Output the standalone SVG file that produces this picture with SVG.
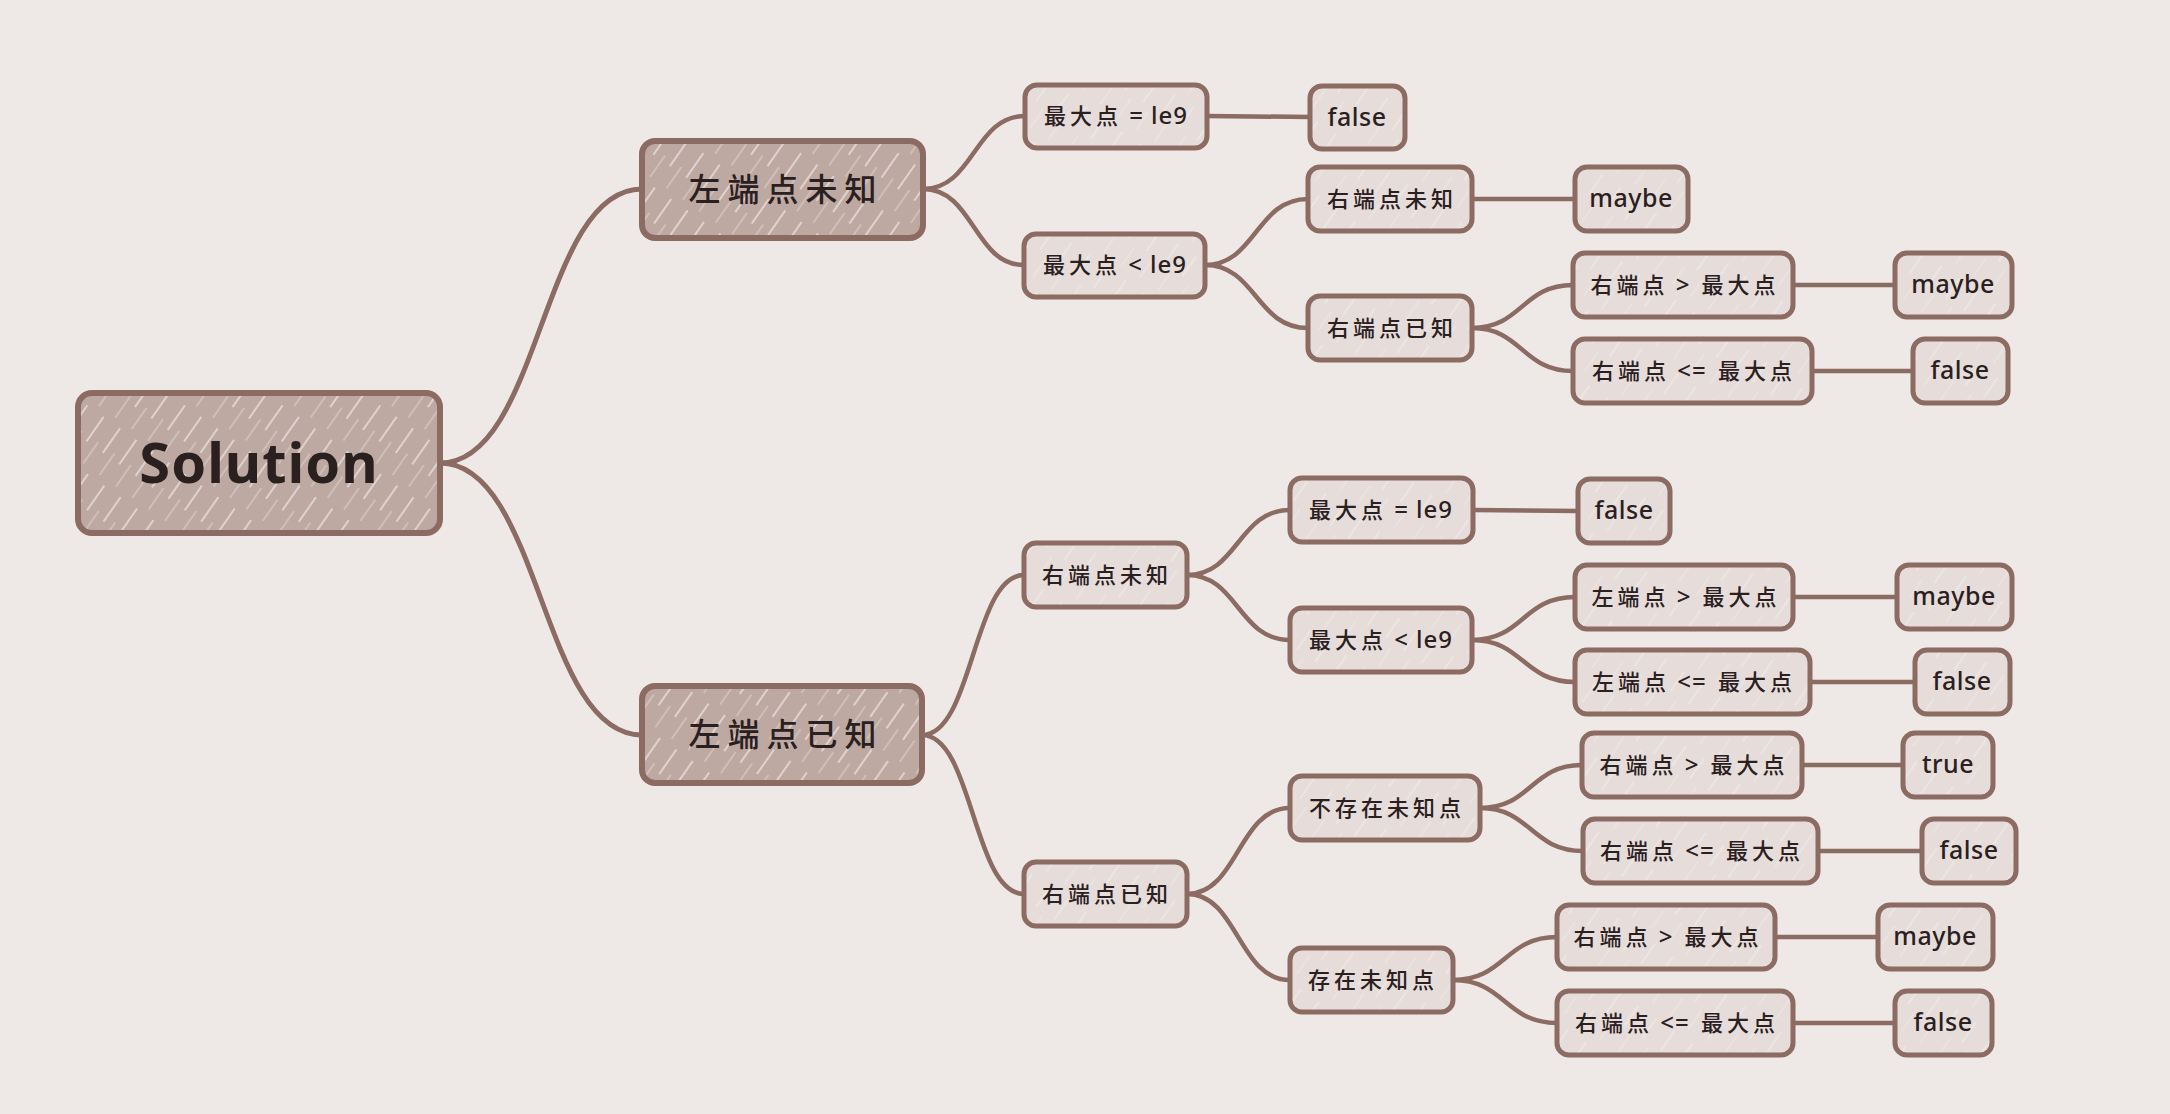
<svg xmlns="http://www.w3.org/2000/svg" width="2170" height="1114" viewBox="0 0 2170 1114">
<defs>
  <pattern id="hatchDark" width="20" height="56" patternUnits="userSpaceOnUse" patternTransform="rotate(35)">
    <rect width="20" height="56" fill="#BEA9A2"/>
    <line x1="4" y1="2" x2="4" y2="32" stroke="#F4EEEC" stroke-width="1.6" opacity="0.75"/>
    <line x1="14" y1="26" x2="14" y2="52" stroke="#F4EEEC" stroke-width="1.2" opacity="0.5"/>
  </pattern>
  <pattern id="hatchLight" width="22" height="60" patternUnits="userSpaceOnUse" patternTransform="rotate(35)">
    <rect width="22" height="60" fill="#E6DDDA"/>
    <line x1="5" y1="4" x2="5" y2="28" stroke="#F5F1EF" stroke-width="1.2" opacity="0.75"/>
    <line x1="15" y1="32" x2="15" y2="54" stroke="#F5F1EF" stroke-width="1" opacity="0.55"/>
  </pattern>
  <style>
    .bg { fill: #EEE9E7; }
    .edge { fill: none; stroke: #8B6B62; stroke-width: 4.5; stroke-linecap: round; }
    .edge.main { stroke-width: 5; }
    .dark rect { fill: url(#hatchDark); stroke: #8B6B62; stroke-width: 6; }
    .light rect { fill: url(#hatchLight); stroke: #8B6B62; stroke-width: 5; }
    text { fill: #2A201F; font-family: "Noto Sans", "Noto Sans CJK SC", sans-serif; text-anchor: middle; }
    .root text { font-size: 56px; font-weight: 700; letter-spacing: 1px; }
    .dark.l1 text { font-size: 32px; font-weight: 500; letter-spacing: 7px; }
    .light text { font-size: 22px; font-weight: 500; letter-spacing: 4px; }
    .light text.en { font-size: 25px; letter-spacing: 0.5px; }
    tspan.lat { font-size: 24px; letter-spacing: 1px; }
  </style>
</defs>
<rect class="bg" x="0" y="0" width="2170" height="1114"/>

<g id="connectors">
  <path class="edge main" d="M440 463 C541 463 541 189 642 189"/>
  <path class="edge main" d="M440 463 C541 463 541 735 642 735"/>
  <path class="edge" d="M923 189 C974 189 974 116 1025 116"/>
  <path class="edge" d="M923 189 C974 189 974 265 1024 265"/>
  <path class="edge" d="M1205 265 C1256 265 1256 199 1308 199"/>
  <path class="edge" d="M1205 265 C1256 265 1256 328 1308 328"/>
  <path class="edge" d="M1472 328 C1522 328 1522 285 1573 285"/>
  <path class="edge" d="M1472 328 C1522 328 1522 371 1573 371"/>
  <path class="edge" d="M1207 116 L1310 117"/>
  <path class="edge" d="M1472 199 L1575 199"/>
  <path class="edge" d="M1793 285 L1895 285"/>
  <path class="edge" d="M1812 371 L1913 371"/>

  <path class="edge" d="M922 735 C973 735 973 575 1024 575"/>
  <path class="edge" d="M922 735 C973 735 973 894 1024 894"/>
  <path class="edge" d="M1187 575 C1238 575 1238 510 1290 510"/>
  <path class="edge" d="M1187 575 C1238 575 1238 640 1290 640"/>
  <path class="edge" d="M1472 640 C1523 640 1523 597 1575 597"/>
  <path class="edge" d="M1472 640 C1523 640 1523 682 1575 682"/>
  <path class="edge" d="M1187 894 C1238 894 1238 808 1290 808"/>
  <path class="edge" d="M1187 894 C1238 894 1238 980 1290 980"/>
  <path class="edge" d="M1480 808 C1531 808 1531 765 1582 765"/>
  <path class="edge" d="M1480 808 C1531 808 1531 851 1583 851"/>
  <path class="edge" d="M1453 980 C1505 980 1505 937 1557 937"/>
  <path class="edge" d="M1453 980 C1505 980 1505 1023 1557 1023"/>
  <path class="edge" d="M1473 510 L1578 511"/>
  <path class="edge" d="M1793 597 L1897 597"/>
  <path class="edge" d="M1810 682 L1915 682"/>
  <path class="edge" d="M1802 765 L1903 765"/>
  <path class="edge" d="M1818 851 L1922 851"/>
  <path class="edge" d="M1775 937 L1878 937"/>
  <path class="edge" d="M1793 1023 L1895 1023"/>
</g>

<g id="n-root" class="dark root"><rect x="78" y="393" width="362" height="140" rx="14"/><text x="259" y="483">Solution</text></g>

<g id="n-l-unknown" class="dark l1"><rect x="642" y="141" width="281" height="97" rx="13"/><text x="786" y="201">左端点未知</text></g>
<g id="n-l-known" class="dark l1"><rect x="642" y="686" width="280" height="97" rx="13"/><text x="786" y="746">左端点已知</text></g>

<g id="n-a1" class="light"><rect x="1025" y="85" width="182" height="63" rx="12"/><text x="1116" y="124">最大点<tspan class="lat"> = le9</tspan></text></g>
<g id="n-a1f" class="light"><rect x="1310" y="86" width="95" height="63" rx="12"/><text class="en" x="1357" y="126">false</text></g>
<g id="n-a2" class="light"><rect x="1024" y="234" width="181" height="63" rx="12"/><text x="1115" y="273">最大点<tspan class="lat"> &lt; le9</tspan></text></g>
<g id="n-a2a" class="light"><rect x="1308" y="167" width="164" height="64" rx="12"/><text x="1392" y="207">右端点未知</text></g>
<g id="n-a2am" class="light"><rect x="1575" y="167" width="113" height="64" rx="12"/><text class="en" x="1631" y="207">maybe</text></g>
<g id="n-a2b" class="light"><rect x="1308" y="296" width="164" height="64" rx="12"/><text x="1392" y="336">右端点已知</text></g>
<g id="n-a2b1" class="light"><rect x="1573" y="253" width="220" height="64" rx="12"/><text x="1685" y="293">右端点<tspan class="lat"> &gt; </tspan><tspan dx="4">最大点</tspan></text></g>
<g id="n-a2b1m" class="light"><rect x="1895" y="253" width="117" height="64" rx="12"/><text class="en" x="1953" y="293">maybe</text></g>
<g id="n-a2b2" class="light"><rect x="1573" y="339" width="239" height="64" rx="12"/><text x="1694" y="379">右端点<tspan class="lat"> &lt;= </tspan><tspan dx="4">最大点</tspan></text></g>
<g id="n-a2b2f" class="light"><rect x="1913" y="339" width="95" height="64" rx="12"/><text class="en" x="1960" y="379">false</text></g>

<g id="n-b1" class="light"><rect x="1024" y="543" width="163" height="64" rx="12"/><text x="1107" y="583">右端点未知</text></g>
<g id="n-b1a" class="light"><rect x="1290" y="478" width="183" height="64" rx="12"/><text x="1381" y="518">最大点<tspan class="lat"> = le9</tspan></text></g>
<g id="n-b1af" class="light"><rect x="1578" y="479" width="92" height="64" rx="12"/><text class="en" x="1624" y="519">false</text></g>
<g id="n-b1b" class="light"><rect x="1290" y="608" width="182" height="64" rx="12"/><text x="1381" y="648">最大点<tspan class="lat"> &lt; le9</tspan></text></g>
<g id="n-b1b1" class="light"><rect x="1575" y="565" width="218" height="64" rx="12"/><text x="1686" y="605">左端点<tspan class="lat"> &gt; </tspan><tspan dx="4">最大点</tspan></text></g>
<g id="n-b1b1m" class="light"><rect x="1897" y="565" width="115" height="64" rx="12"/><text class="en" x="1954" y="605">maybe</text></g>
<g id="n-b1b2" class="light"><rect x="1575" y="650" width="235" height="64" rx="12"/><text x="1694" y="690">左端点<tspan class="lat"> &lt;= </tspan><tspan dx="4">最大点</tspan></text></g>
<g id="n-b1b2f" class="light"><rect x="1915" y="650" width="95" height="64" rx="12"/><text class="en" x="1962" y="690">false</text></g>

<g id="n-b2" class="light"><rect x="1024" y="862" width="163" height="64" rx="12"/><text x="1107" y="902">右端点已知</text></g>
<g id="n-b2a" class="light"><rect x="1290" y="776" width="190" height="64" rx="12"/><text x="1387" y="816">不存在未知点</text></g>
<g id="n-b2a1" class="light"><rect x="1582" y="733" width="220" height="64" rx="12"/><text x="1694" y="773">右端点<tspan class="lat"> &gt; </tspan><tspan dx="4">最大点</tspan></text></g>
<g id="n-b2a1t" class="light"><rect x="1903" y="733" width="90" height="64" rx="12"/><text class="en" x="1948" y="773">true</text></g>
<g id="n-b2a2" class="light"><rect x="1583" y="819" width="235" height="64" rx="12"/><text x="1702" y="859">右端点<tspan class="lat"> &lt;= </tspan><tspan dx="4">最大点</tspan></text></g>
<g id="n-b2a2f" class="light"><rect x="1922" y="819" width="94" height="64" rx="12"/><text class="en" x="1969" y="859">false</text></g>
<g id="n-b2b" class="light"><rect x="1290" y="948" width="163" height="64" rx="12"/><text x="1373" y="988">存在未知点</text></g>
<g id="n-b2b1" class="light"><rect x="1557" y="905" width="218" height="64" rx="12"/><text x="1668" y="945">右端点<tspan class="lat"> &gt; </tspan><tspan dx="4">最大点</tspan></text></g>
<g id="n-b2b1m" class="light"><rect x="1878" y="905" width="115" height="64" rx="12"/><text class="en" x="1935" y="945">maybe</text></g>
<g id="n-b2b2" class="light"><rect x="1557" y="991" width="236" height="64" rx="12"/><text x="1677" y="1031">右端点<tspan class="lat"> &lt;= </tspan><tspan dx="4">最大点</tspan></text></g>
<g id="n-b2b2f" class="light"><rect x="1895" y="991" width="97" height="64" rx="12"/><text class="en" x="1943" y="1031">false</text></g>
</svg>
